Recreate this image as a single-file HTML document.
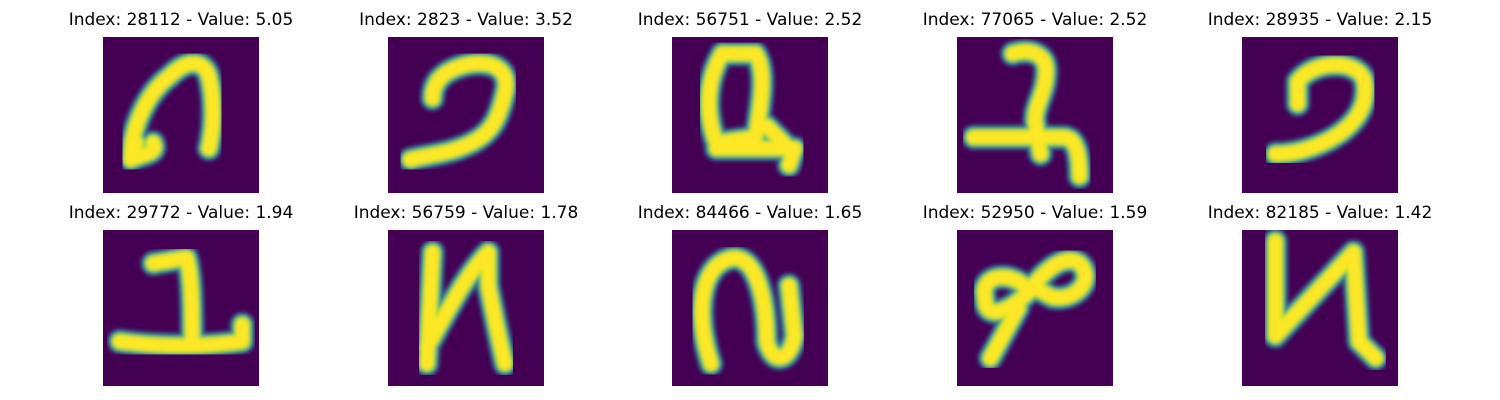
<!DOCTYPE html>
<html><head><meta charset="utf-8">
<style>
body{margin:0;background:#fff;width:1500px;height:400px;overflow:hidden;font-family:"DejaVu Sans","Liberation Sans",sans-serif;}
.t{position:absolute;font-size:17px;color:#000;text-align:center;width:300px;white-space:nowrap;}
svg.p{position:absolute;width:156px;height:156px;}
</style></head>
<body>
<div id="root"></div>
<script>
const indices=[28112,2823,56751,77065,28935,29772,56759,84466,52950,82185];
const values=["5.05","3.52","2.52","2.52","2.15","1.94","1.78","1.65","1.59","1.42"];
const strokes=[
"M9,19 C10,21 7,21 5,22 C5,16 8,10 12,7 C15,4 18,4 19,7 C20,11 20,16 19,20 M5,22 L6,19",
"M8,11 C8,8 10,6 14,5 C19,4 22,6 21,10 C20,14 19,17 15,19 C11,21 8,21 4,22",
"M9,3 L15,3 C17,6 16,12 15,18 L8,19 C6,14 6,8 9,3 M8,20 L22,20 L21,23 M17,16 L21,20",
"M10,3 C13,2 16,3 16,6 C16,10 14,12 14,15 M3,18 L19,18 C21,18 22,20 22,25 M14,15 L15,21",
"M10,8 C13,4 21,4 22,8 C23,14 18,18 12,20 C9,21 7,21 6,21 M10,8 L10,12",
"M9,6 L15,5 C16,8 16,15 16,20 M3,20 C10,21 18,21 25,20 L25,17",
"M8,4 L7,24 M7,21 C11,14 14,8 18,4 L18,10 C19,15 20,20 21,24",
"M7,24 C4,15 5,6 11,5 C16,5 17,15 17,20 C18,24 21,24 22,19 L21,10",
"M13,11 C10,7 4,8 5,12 C5,17 10,14 13,11 C15,8 19,4 22,6 C25,9 21,13 17,12 C15,11 14,10 13,11 M11,14 L6,23",
"M6,2 L6,19 M6,19 L20,4 L21,20 L24,23"
];
const colX=[103,388,672,957,1242], rowY=[37,230];
const root=document.getElementById('root');
for(let i=0;i<indices.length;i++){
  const c=i%5,r=Math.floor(i/5);
  const t=document.createElement('div');
  t.className='t';
  
  
  t.style.left=(colX[c]+78-150)+'px';
  t.style.top=(rowY[r]-27)+'px';
  t.textContent='Index: '+indices[i]+' - Value: '+values[i];
  root.appendChild(t);
  const ns='http://www.w3.org/2000/svg';
  const s=document.createElementNS(ns,'svg');
  s.setAttribute('class','p');
  
  
  s.setAttribute('viewBox','0 0 28 28');
  s.style.left=colX[c]+'px';s.style.top=rowY[r]+'px';
  s.innerHTML='<defs><filter id="b'+i+'"><feGaussianBlur stdDeviation="0.35"/></filter></defs>'+
   '<rect width="28" height="28" fill="#440154"/>'+
   '<g filter="url(#b'+i+')" fill="none" stroke-linecap="round" stroke-linejoin="round">'+
   '<path d="'+strokes[i]+'" stroke="#3b528b" stroke-width="4.6"/>'+
   '<path d="'+strokes[i]+'" stroke="#21918c" stroke-width="3.8"/>'+
   '<path d="'+strokes[i]+'" stroke="#9fda3a" stroke-width="3"/>'+
   '<path d="'+strokes[i]+'" stroke="#fde725" stroke-width="2.2"/></g>';
  root.appendChild(s);
}
</script>
</body></html>
